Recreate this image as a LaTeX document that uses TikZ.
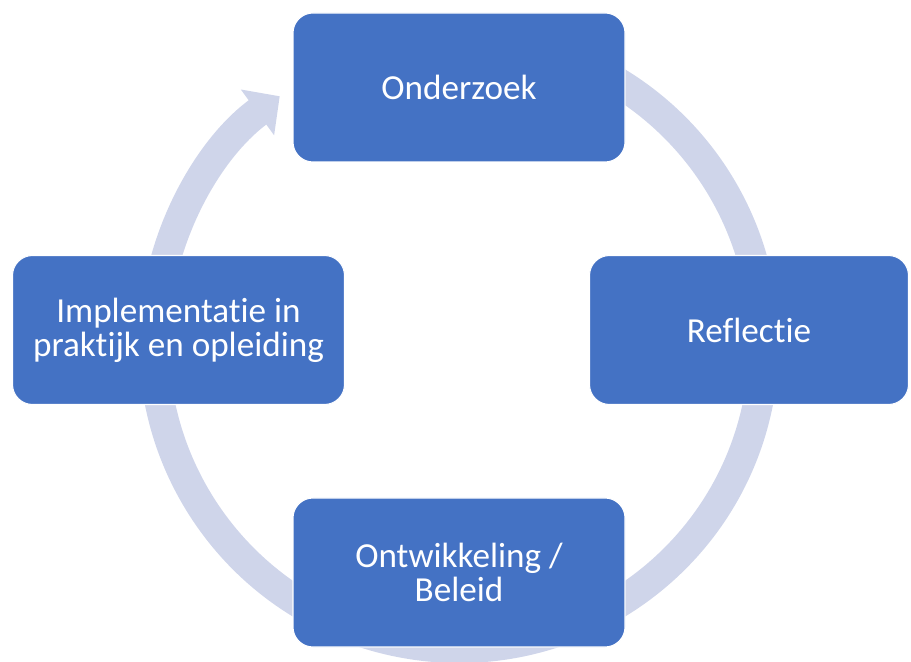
\documentclass[tikz,border=0pt]{standalone}
\usepackage{fontspec}
\setmainfont{Carlito}[Ligatures=NoCommon]
\usetikzlibrary{arrows.meta}
\definecolor{cycleblue}{RGB}{68,114,196}
\definecolor{ringblue}{RGB}{207,213,234}

\begin{document}
\begin{tikzpicture}[
    stage/.style={rectangle, rounded corners=0.4cm, fill=cycleblue, draw=white, line width=0.6pt,
        text=white, align=center, inner sep=0pt, minimum width=6.64cm, minimum height=2.98cm,
        font=\fontsize{20}{19.5}\selectfont}
]
    \useasboundingbox (0,0) rectangle (18.22,13.22);

    % Ring
    \coordinate (hub) at (9.18,6.36);
    \draw[ringblue, line width=0.6cm, -{Triangle[width=1.1cm, length=0.55cm]}]
        ([shift={(80:6.1)}]hub) arc[start angle=80, end angle=-234, radius=6.1];

    % Stages
    \node[stage] (research) at (9.18,11.47) {Onderzoek};
    \node[stage, minimum width=6.38cm] (reflection) at (14.98,6.62) {Reflectie};
    \node[stage] (policy) at (9.18,1.77) {Ontwikkeling /\\Beleid};
    \node[stage] (practice) at (3.57,6.62) {Implementatie in\\praktijk en opleiding};
\end{tikzpicture}
\end{document}
